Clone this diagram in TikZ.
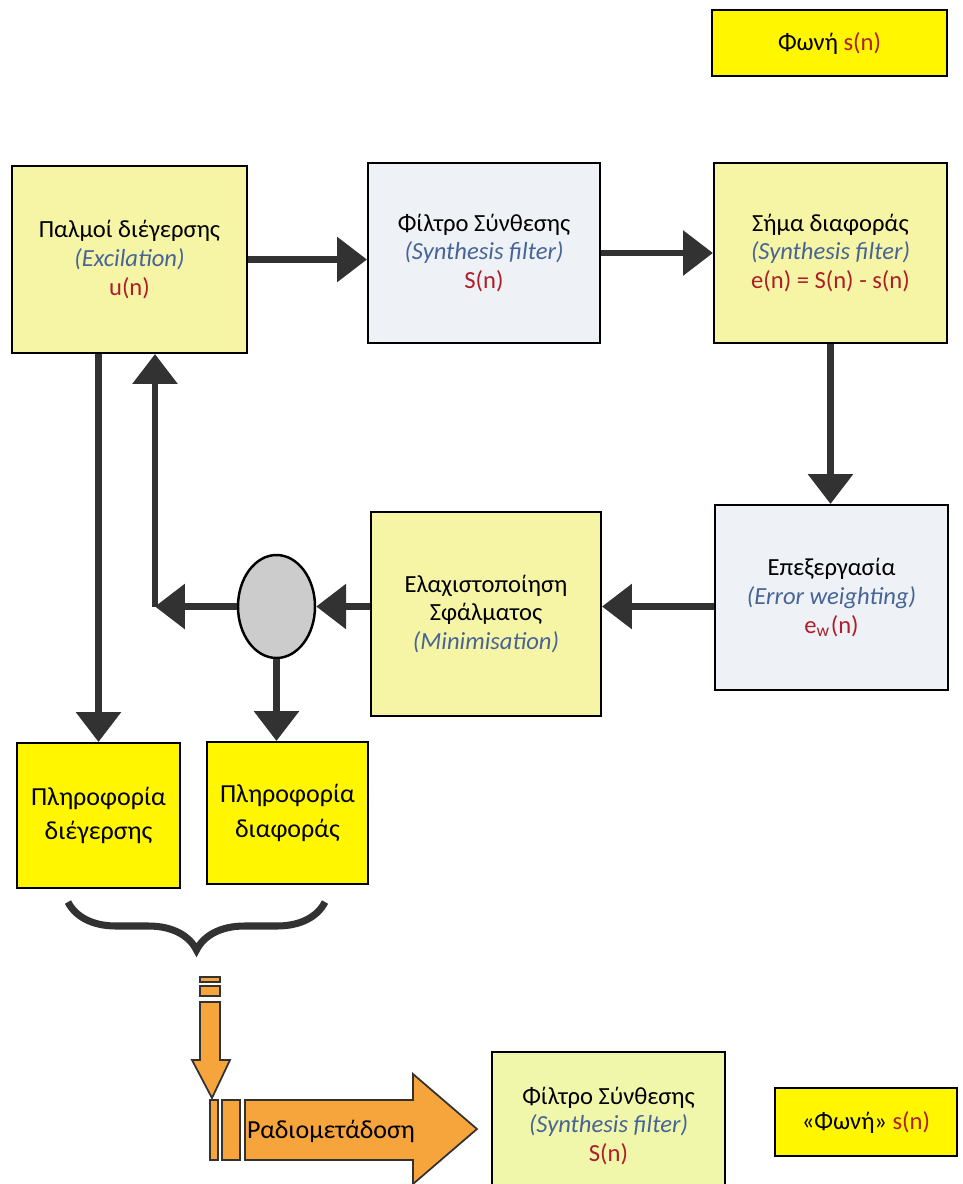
\documentclass[tikz,border=0pt]{standalone}
\usepackage{fontspec}
\setmainfont{Carlito}
\usetikzlibrary{arrows.meta,shapes.geometric,decorations.pathreplacing}

\definecolor{boxyellow}{RGB}{255,246,0}
\definecolor{paleyellow}{RGB}{246,245,165}
\definecolor{paleblue}{RGB}{238,242,247}
\definecolor{palegreen}{RGB}{240,246,170}
\definecolor{engblue}{RGB}{70,100,150}
\definecolor{sigred}{RGB}{175,30,40}
\definecolor{arrowgray}{RGB}{50,50,50}
\definecolor{radioorange}{RGB}{246,165,60}

\newcommand{\eng}[1]{{\itshape\color{engblue}(#1)}}
\newcommand{\sig}[1]{{\color{sigred}#1}}

\begin{document}
\begin{tikzpicture}[x=0.1mm,y=-0.1mm,
    font=\fontsize{7}{8.2}\selectfont,
    block/.style={draw=black,line width=0.6pt,align=center,inner sep=0pt},
    infobox/.style={block,fill=boxyellow,font=\fontsize{7.4}{9.8}\selectfont},
    flow/.style={draw=arrowgray,line width=1.8pt,-{Triangle[length=8.5pt,width=12.5pt]}},
    band/.style={draw=arrowgray,line width=0.5pt,fill=radioorange}]
  \useasboundingbox (0,0) rectangle (962,1184);
  \fill[white] (0,0) rectangle (962,1184);

  % analysis loop
  \node[block,fill=boxyellow,minimum width=23.5mm,minimum height=6.6mm] (voice) at (829.5,43) {Φωνή \sig{s(n)}};
  \node[block,fill=paleyellow,minimum width=23.5mm,minimum height=18.7mm] (exc) at (129.5,259.5)
    {Παλμοί διέγερσης\\ \eng{Excilation}\\ \sig{u(n)}};
  \node[block,fill=paleblue,minimum width=23.2mm,minimum height=18mm] (synth) at (484,253)
    {Φίλτρο Σύνθεσης\\ \eng{Synthesis filter}\\ \sig{S(n)}};
  \node[block,fill=paleyellow,minimum width=23.3mm,minimum height=18mm] (diff) at (830.5,253)
    {Σήμα διαφοράς\\ \eng{Synthesis filter}\\ \sig{e(n) = S(n) - s(n)}};
  \node[block,fill=paleblue,minimum width=23.3mm,minimum height=18.5mm] (weight) at (831.5,597.5)
    {Επεξεργασία\\ \eng{Error weighting}\\ \sig{e\textsubscript{w}(n)}};
  \node[block,fill=paleyellow,minimum width=23mm,minimum height=20.4mm] (mini) at (486,614)
    {Ελαχιστοποίηση\\ Σφάλματος\\ \eng{Minimisation}};
  \node[ellipse,draw=black,line width=0.7pt,fill=gray!40,inner sep=0pt,
    minimum width=7.7mm,minimum height=10.3mm] (ell) at (276.5,606.5) {};

  % transmitted parameters
  \node[infobox,minimum width=16.3mm,minimum height=14.5mm] (info1) at (98.5,815.5) {Πληροφορία\\ διέγερσης};
  \node[infobox,minimum width=16.1mm,minimum height=14.2mm] (info2) at (287.5,813) {Πληροφορία\\ διαφοράς};

  \draw[flow] (exc.east) -- (exc.east -| synth.west);
  \draw[flow] (synth.east) -- (synth.east -| diff.west);
  \draw[flow] (diff.south) -- (diff.south |- weight.north);
  \draw[flow] (weight.west |- ell.center) -- (mini.east |- ell.center);
  \draw[flow] (mini.west |- ell.center) -- (ell.east);
  \coordinate (fb) at (155,606.5);
  \draw[flow] (ell.west) -- (fb);
  \draw[flow] (fb) -- (fb |- exc.south);
  \draw[flow] (exc.south -| info1.north) -- (info1.north);
  \draw[flow] (ell.south) -- (ell.south |- info2.north);

  % brace under both boxes
  \coordinate (bl) at (68,902);
  \coordinate (br) at (325,902);
  \draw[arrowgray,line width=2pt,decorate,decoration={brace,mirror,amplitude=4.8mm}] (bl) -- (br);

  % radio link
  \filldraw[band] (200,977) rectangle (220,982);
  \filldraw[band] (200,986) rectangle (220,996);
  \filldraw[band] (200,1002) -- (220,1002) -- (220,1060) -- (230,1060) -- (212,1098)
    -- (192,1060) -- (200,1060) -- cycle;
  \filldraw[band] (210,1100) rectangle (218,1160);
  \filldraw[band] (222,1100) rectangle (240,1160);
  \filldraw[band] (245,1100) -- (413,1100) -- (413,1074) -- (477,1129) -- (413,1184)
    -- (413,1160) -- (245,1160) -- cycle;
  \node[font=\fontsize{7.4}{8}\selectfont] (radio) at (331,1131) {Ραδιομετάδοση};

  % receiver side
  \node[block,fill=palegreen,minimum width=23.3mm,minimum height=14.8mm] (synth2) at (608.5,1126)
    {Φίλτρο Σύνθεσης\\ \eng{Synthesis filter}\\ \sig{S(n)}};
  \node[block,fill=boxyellow,minimum width=18.2mm,minimum height=6.8mm] (voice2) at (866,1122)
    {«Φωνή» \sig{s(n)}};
\end{tikzpicture}
\end{document}
